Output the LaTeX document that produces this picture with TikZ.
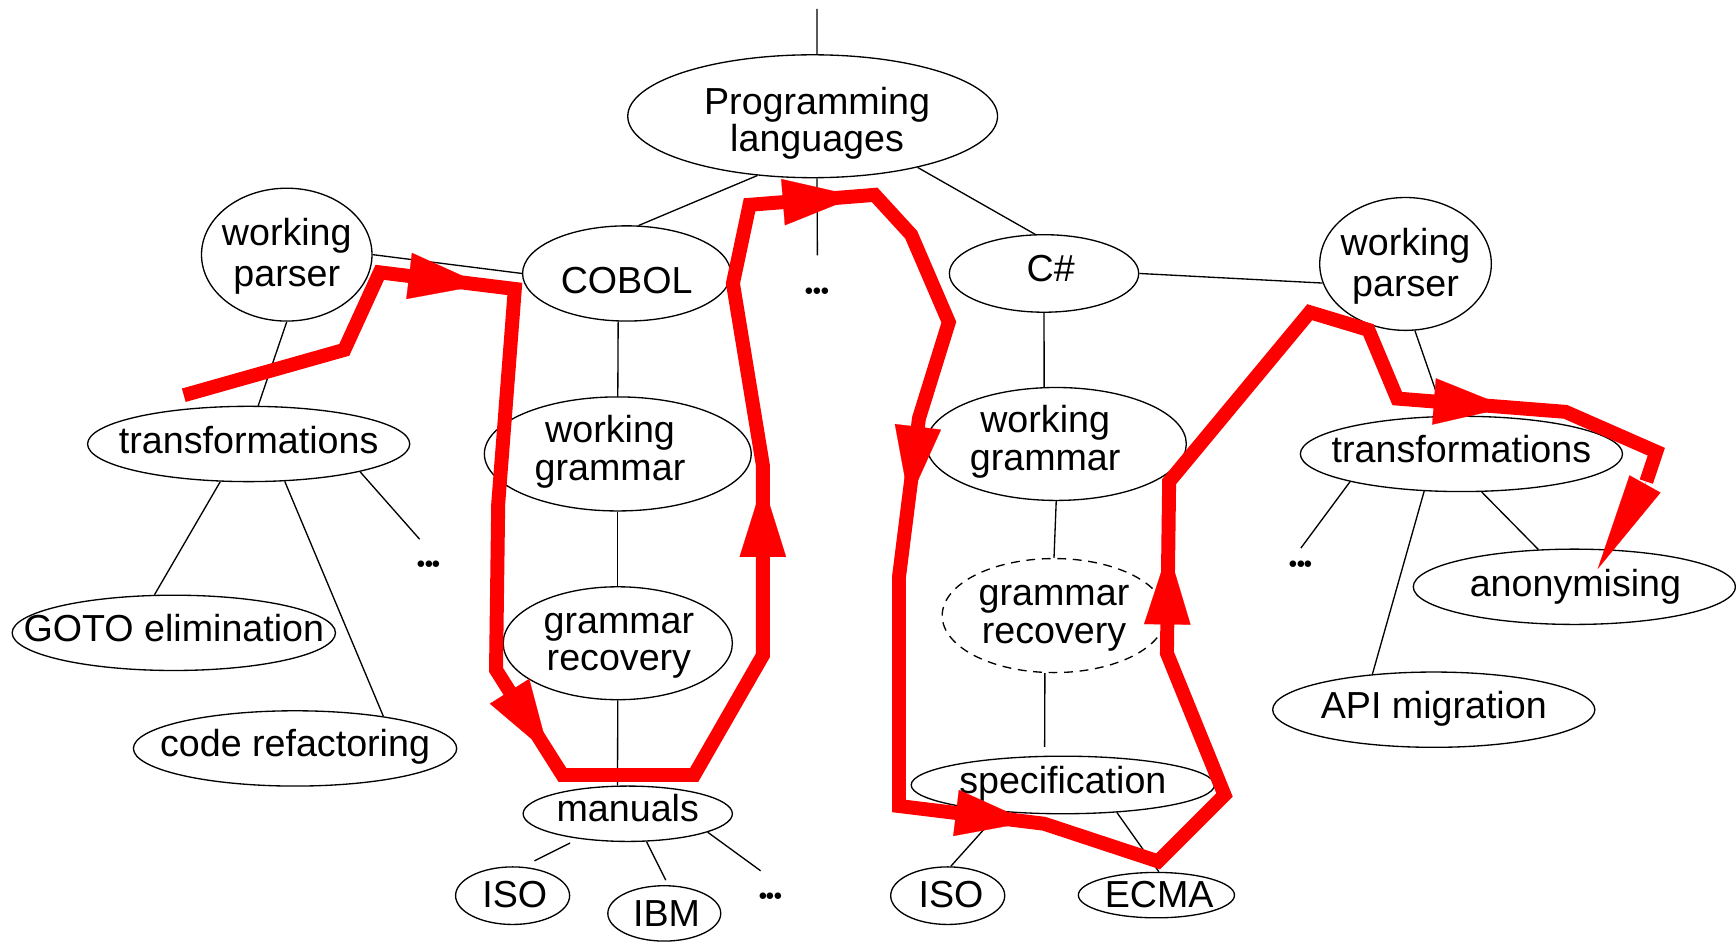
\documentclass[tikz,border=0pt]{standalone}
\usepackage{fontspec}
\setmainfont{Liberation Sans}
\usetikzlibrary{shapes.geometric,arrows.meta,calc}
\newdimen\px \px=0.5pt
% one-line label: dx (px), baseline below centre (px), text
\newcommand\nlab[3]{\makebox[0pt]{\hspace*{#1pt}\raisebox{-#2\px}[0pt][0pt]{#3}}}
% two-line label: dx, baseline of last line below centre, line spacing (px), line1, line2
\newcommand\nlabb[5]{\makebox[0pt]{\hspace*{#1pt}\raisebox{-#2\px}[0pt][0pt]{\vbox{\baselineskip=#3\px\lineskiplimit=-100pt\hbox to 0pt{\hss #4\hss}\hbox to 0pt{\hss #5\hss}}}}}
\newcommand\tdots{.\kern-1.85pt.\kern-1.85pt.}
\begin{document}
\begin{tikzpicture}[x=0.5pt,y=-0.5pt,
  gl/.style={line width=0.6pt, draw=black},
  el/.style={ellipse, draw, line width=0.6pt, inner sep=0pt, font=\fontsize{17}{17}\selectfont},
  sz/.style 2 args={minimum width=#1*0.5pt, minimum height=#2*0.5pt},
  dotnode/.style={inner sep=0pt, font=\fontfamily{lmr}\fontsize{19}{19}\bfseries\selectfont},
  redline/.style={draw=red, line width=6.3pt, line join=miter},
  rtip/.style={draw=red, line width=0.1pt, -{Triangle[length=33.5pt,width=21pt]}},
  rtipb/.style={draw=red, line width=0.1pt, -{Triangle[length=44pt,width=16pt]}},
]
\useasboundingbox (0,0) rectangle (1568,850);

% ---------- nodes ----------
\node[el,sz={334}{111}] (prog) at (734,105) {\nlabb{4}{32}{34}{Programming}{languages}};
\node[el,sz={154}{120}] (wpL) at (259,230) {\nlabb{0}{29}{37}{working}{parser}};
\node[el,sz={188}{86}] (cobol) at (566,247) {\nlab{0}{18}{COBOL}};
\node[el,sz={171}{70}] (cs) at (943,247) {\nlab{6}{7}{C\#}};
\node[el,sz={155}{120}] (wpR) at (1269.5,238.4) {\nlabb{0}{29}{37}{working}{parser}};
\node[el,sz={291}{68}] (tfL) at (224.6,401) {\nlab{0}{8.5}{transformations}};
\node[el,sz={241}{103}] (wgC) at (558,410) {\nlabb{-7}{24}{34}{working}{grammar}};
\node[el,sz={207}{102}] (grC) at (558,581) {\nlabb{1}{25}{34}{grammar}{recovery}};
\node[el,sz={189}{50}] (man) at (567,735) {\nlab{0}{7}{manuals}};
\node[el,sz={103}{52}] (iso1) at (463,809) {\nlab{2}{11}{ISO}};
\node[el,sz={102}{50}] (ibm) at (600,825) {\nlab{2}{12}{IBM}};
\node[el,sz={235}{102}] (wgS) at (954,401) {\nlabb{-10}{24}{34}{working}{grammar}};
\node[el,sz={202}{103},dash pattern=on 4pt off 3pt] (grS) at (952,556) {\nlabb{0}{25}{34}{grammar}{recovery}};
\node[el,sz={274}{52}] (spec) at (960,709) {\nlab{0}{7.5}{specification}};
\node[el,sz={103}{52}] (iso2) at (856,809) {\nlab{3}{11}{ISO}};
\node[el,sz={141}{41}] (ecma) at (1044.5,808.5) {\nlab{2.5}{11.5}{ECMA}};
\node[el,sz={291}{68}] (tfR) at (1320,410) {\nlab{0}{7.5}{transformations}};
\node[el,sz={291}{68}] (anon) at (1422,530) {\nlab{1}{9}{anonymising}};
\node[el,sz={291}{68}] (api) at (1295,641) {\nlab{0}{8}{API migration}};
\node[el,sz={292}{68}] (goto) at (157,571.6) {\nlab{0}{8}{GOTO elimination}};
\node[el,sz={292}{68}] (code) at (266.5,676) {\nlab{0}{7.5}{code refactoring}};

\node[dotnode] (d1) at (738.3,262.6) {\tdots};
\node[dotnode] (d2) at (387.5,510) {\tdots};
\node[dotnode] (d3) at (696,809.5) {\tdots};
\node[dotnode] (d4) at (1175,510) {\tdots};

\coordinate (top) at (738,8);

% ---------- black connectors ----------
\draw[gl] (top) -- (prog.86);
\draw[gl] (prog.227) -- (cobol.76);
\draw[gl] (prog.274) -- ([shift={(0,-32)}]d1.center);
\draw[gl] (prog.334) -- (cs.103);
\draw[gl] (wpL.east) -- (cobol.west);
\draw[gl] (cobol.260) -- (wgC.north);
\draw[gl] (wgC.south) -- (grC.north);
\draw[gl] (grC.south) -- (man.110);
\draw[gl,shorten <=4.3pt,shorten >=6pt] (man.207) -- (iso1.71);
\draw[gl,shorten >=2.5pt] (man.304) -- (ibm.82);
\draw[gl] (man.347) -- ([shift={(-9,-23)}]d3.center);
\draw[gl] (wpL.south) -- (tfL.76);
\draw[gl] (tfL.233) -- (goto.117);
\draw[gl] (tfL.314) -- (code.20);
\draw[gl] (tfL.346) -- ([shift={(-8.5,-23)}]d2.center);
\draw[gl] (cs.east) -- (wpR.193);
\draw[gl] (cs.south) -- (wgS.102);
\draw[gl] (wgS.south) -- (grS.north);
\draw[gl,shorten >=4pt] (grS.261) -- (spec.122);
\draw[gl] (spec.203) -- (iso2.84);
\draw[gl] (spec.333) -- (ecma.84);
\draw[gl] (wpR.278) -- (tfR.114);
\draw[gl] (tfR.194) -- ([shift={(0,-15)}]d4.center);
\draw[gl] (tfR.298) -- (anon.134);
\draw[gl] (tfR.225) -- (api.150);

% ---------- red path ----------
\coordinate (r0) at (166,357);
\coordinate (r1) at (311,316);
\coordinate (r2) at (343,246);
\coordinate (r3) at (465,261);
\coordinate (r4) at (450,455);
\coordinate (r5) at (448,605);
\coordinate (r6) at (508,700);
\coordinate (r7) at (627,700);
\coordinate (r8) at (689,592);
\coordinate (r9) at (689,420);
\coordinate (r10) at (662,256);
\coordinate (r11) at (677,185);
\coordinate (r12) at (790,176);
\coordinate (r13) at (823,212);
\coordinate (r14) at (857,291);
\coordinate (r15) at (830,378);
\coordinate (r16) at (812,521);
\coordinate (r17) at (812,728);
\coordinate (r18) at (943,744);
\coordinate (r19) at (1046,778);
\coordinate (r20) at (1106,718);
\coordinate (r21) at (1054,590);
\coordinate (r22) at (1056,435);
\coordinate (r23) at (1183,282);
\coordinate (r24) at (1236,298);
\coordinate (r25) at (1262,360);
\coordinate (r26) at (1414,372);
\coordinate (r27) at (1496,408);
\coordinate (r28) at (1487,435);

\coordinate (a1) at (436,257.4);
\coordinate (a2) at (496,681);
\coordinate (a3) at (689,436);
\coordinate (a4) at (774,177.3);
\coordinate (a5) at (821,452);
\coordinate (a6) at (930,742.4);
\coordinate (a7) at (1055.2,497);
\coordinate (a8) at (1362,367.9);
\coordinate (a9) at (1443,514);

\draw[redline] (r0) -- (r1) -- (r2) -- (r3) -- (r4) -- (r5) -- (r6) -- (r7) -- (r8) -- (r9)
  -- (r10) -- (r11) -- (r12) -- (r13) -- (r14) -- (r15) -- (r16) -- (r17) -- (r18) -- (r19)
  -- (r20) -- (r21) -- (r22) -- (r23) -- (r24) -- (r25) -- (r26) -- (r27) -- (r28);

\draw[rtip] ($(a1)!45pt!(r2)$) -- (a1);
\draw[rtip] ($(a2)!45pt!(r5)$) -- (a2);
\draw[rtip] ($(a3)!45pt!(r8)$) -- (a3);
\draw[rtip] ($(a4)!45pt!(r11)$) -- (a4);
\draw[rtip] ($(a5)!45pt!(r15)$) -- (a5);
\draw[rtip] ($(a6)!45pt!(r17)$) -- (a6);
\draw[rtip] ($(a7)!45pt!(r21)$) -- (a7);
\draw[rtip] ($(a8)!45pt!(r25)$) -- (a8);
\draw[rtipb] (r28) -- (a9);
\end{tikzpicture}
\end{document}
